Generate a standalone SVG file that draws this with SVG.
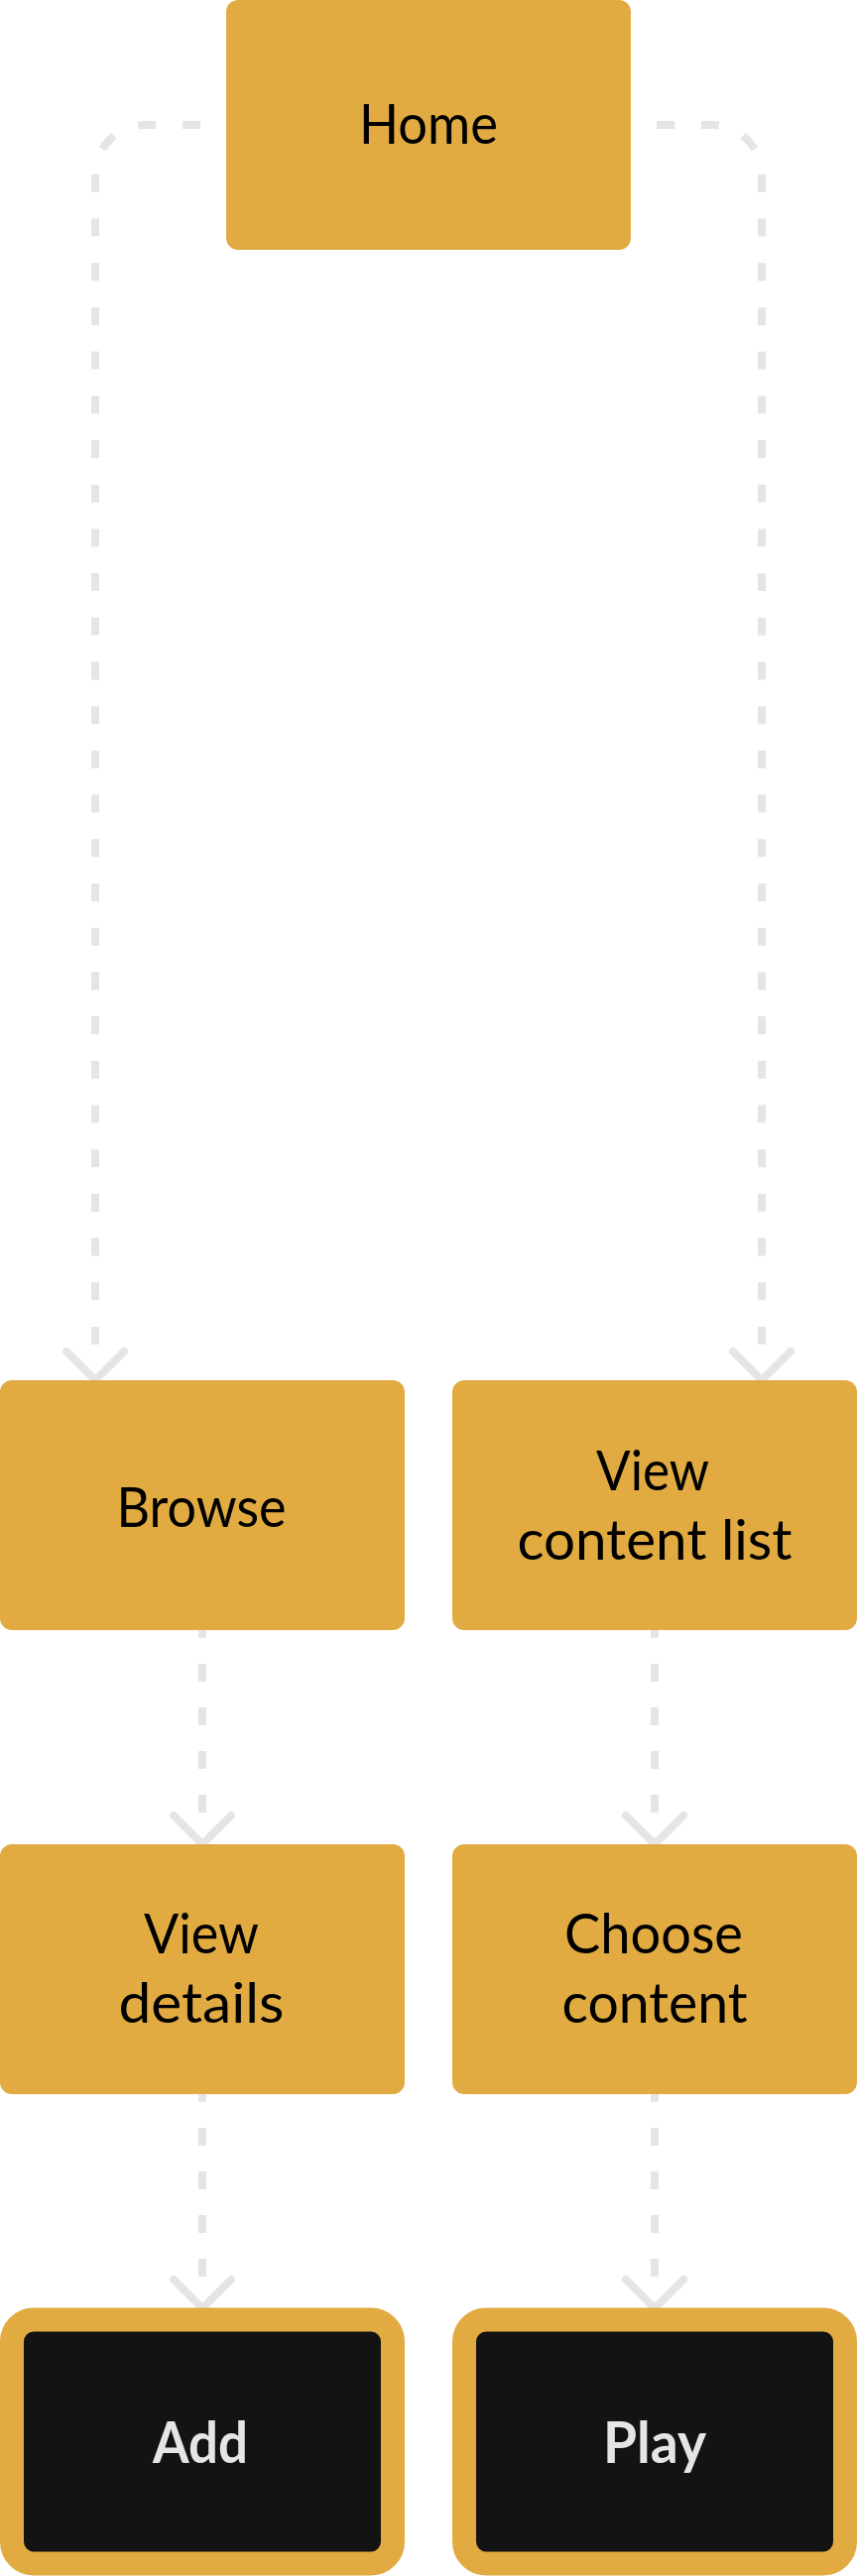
<svg xmlns="http://www.w3.org/2000/svg" width="864" height="2598" viewBox="0 0 864 2598">
<style>
.box{fill:#E1AB41}
.term{fill:#131313;stroke:#E1AB41;stroke-width:24}
.lbl{font-family:Lato,"Liberation Sans",sans-serif;font-size:57px;fill:#000;text-anchor:middle}
.tlbl{font-family:Lato,"Liberation Sans",sans-serif;font-size:57px;font-weight:700;fill:#E5E5E5;text-anchor:middle}
.dash{fill:none;stroke:#E5E5E5;stroke-width:8;stroke-dasharray:18 26.7}
.head{fill:none;stroke:#E5E5E5;stroke-width:8;stroke-linecap:round;stroke-linejoin:round}
</style>
<rect width="864" height="2598" fill="#FFFFFF"/>
<g id="connectors">
<path class="dash" d="M96 1356 V176 A50 50 0 0 1 146 126 H236"/>
<polyline class="head" points="67,1363 96,1392 125,1363"/>
<path class="dash" d="M768 1356 V176 A50 50 0 0 0 718 126 H628"/>
<polyline class="head" points="739,1363 768,1392 797,1363"/>
<path class="dash" d="M204 1644 V1852" style="stroke-dashoffset:10;stroke-dasharray:18 26"/>
<polyline class="head" points="175,1831 204,1860 233,1831"/>
<path class="dash" d="M660 1644 V1852" style="stroke-dashoffset:10;stroke-dasharray:18 26"/>
<polyline class="head" points="631,1831 660,1860 689,1831"/>
<path class="dash" d="M204 2112 V2320" style="stroke-dashoffset:10;stroke-dasharray:18 26"/>
<polyline class="head" points="175,2299 204,2328 233,2299"/>
<path class="dash" d="M660 2112 V2320" style="stroke-dashoffset:10;stroke-dasharray:18 26"/>
<polyline class="head" points="631,2299 660,2328 689,2299"/>
</g>
<g id="home">
<rect class="box" x="228" y="0" width="408" height="252" rx="12"/>
<text class="lbl" x="432" y="145" textLength="140" lengthAdjust="spacingAndGlyphs">Home</text>
</g>
<g id="browse">
<rect class="box" x="0" y="1392" width="408" height="252" rx="12"/>
<text class="lbl" x="203" y="1540" textLength="171" lengthAdjust="spacingAndGlyphs">Browse</text>
</g>
<g id="view-content-list">
<rect class="box" x="456" y="1392" width="408" height="252" rx="12"/>
<text class="lbl" x="658" y="1503" textLength="114" lengthAdjust="spacingAndGlyphs">View</text>
<text class="lbl" x="660" y="1573" textLength="277" lengthAdjust="spacingAndGlyphs">content list</text>
</g>
<g id="view-details">
<rect class="box" x="0" y="1860" width="408" height="252" rx="12"/>
<text class="lbl" x="203" y="1970" textLength="116" lengthAdjust="spacingAndGlyphs">View</text>
<text class="lbl" x="203" y="2040" textLength="167" lengthAdjust="spacingAndGlyphs">details</text>
</g>
<g id="choose-content">
<rect class="box" x="456" y="1860" width="408" height="252" rx="12"/>
<text class="lbl" x="659" y="1970" textLength="180" lengthAdjust="spacingAndGlyphs">Choose</text>
<text class="lbl" x="660" y="2040" textLength="187" lengthAdjust="spacingAndGlyphs">content</text>
</g>
<g id="add">
<rect class="term" x="12" y="2339.5" width="384" height="246" rx="22"/>
<text class="tlbl" x="202" y="2484" textLength="96" lengthAdjust="spacingAndGlyphs">Add</text>
</g>
<g id="play">
<rect class="term" x="468" y="2339.5" width="384" height="246" rx="22"/>
<text class="tlbl" x="660" y="2484" textLength="104" lengthAdjust="spacingAndGlyphs">Play</text>
</g>
</svg>
